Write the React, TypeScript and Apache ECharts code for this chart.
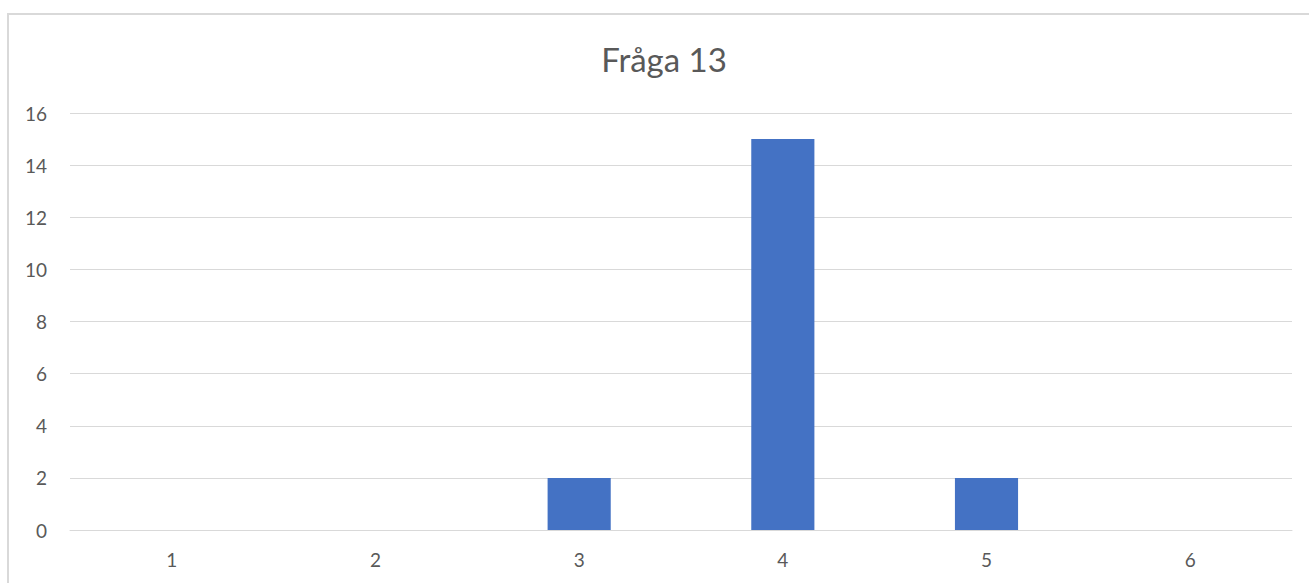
import React, { useEffect, useRef } from "react";
import * as echarts from "echarts";

const categories = ["1", "2", "3", "4", "5", "6"];
const values = [0, 0, 2, 15, 2, 0];
const titleText = "Fråga 13";

export default function App() {
  const ref = useRef<HTMLDivElement>(null);
  useEffect(() => {
    if (!ref.current) return;
    const chart = echarts.init(ref.current, null, { renderer: "svg" });
    chart.setOption({
      animation: false,
      backgroundColor: "#ffffff",
      textStyle: { fontFamily: "Lato, 'Noto Sans', sans-serif" },
      title: {
        text: titleText,
        left: 659,
        top: 37,
        textAlign: "center",
        textStyle: { fontSize: 33, fontWeight: "normal", color: "#595959", fontFamily: "Lato, 'Noto Sans', sans-serif" },
      },
      graphic: [
        {
          type: "rect",
          shape: { x: 8, y: 14, width: 1320, height: 600 },
          style: { fill: "none", stroke: "#d9d9d9", lineWidth: 2 },
          silent: true,
        },
      ],
      grid: { left: 70, right: 17, top: 113, bottom: 53, containLabel: false },
      xAxis: {
        type: "category",
        data: categories,
        axisLine: { show: true, lineStyle: { color: "#d9d9d9", width: 1 } },
        axisTick: { show: false },
        axisLabel: { color: "#595959", fontSize: 19, margin: 20 },
      },
      yAxis: {
        type: "value",
        min: 0,
        max: 16,
        interval: 2,
        axisLine: { show: false },
        axisTick: { show: false },
        axisLabel: { color: "#595959", fontSize: 19, margin: 23 },
        splitLine: { lineStyle: { color: "#d9d9d9", width: 1 } },
      },
      series: [
        {
          type: "bar",
          data: values,
          barWidth: "31%",
          itemStyle: { color: "#4472C4" },
        },
      ],
    });
    return () => chart.dispose();
  }, []);
  return (
    <div
      ref={ref}
      style={{ position: "fixed", left: 0, top: 0, width: 1309, height: 583 }}
    />
  );
}
